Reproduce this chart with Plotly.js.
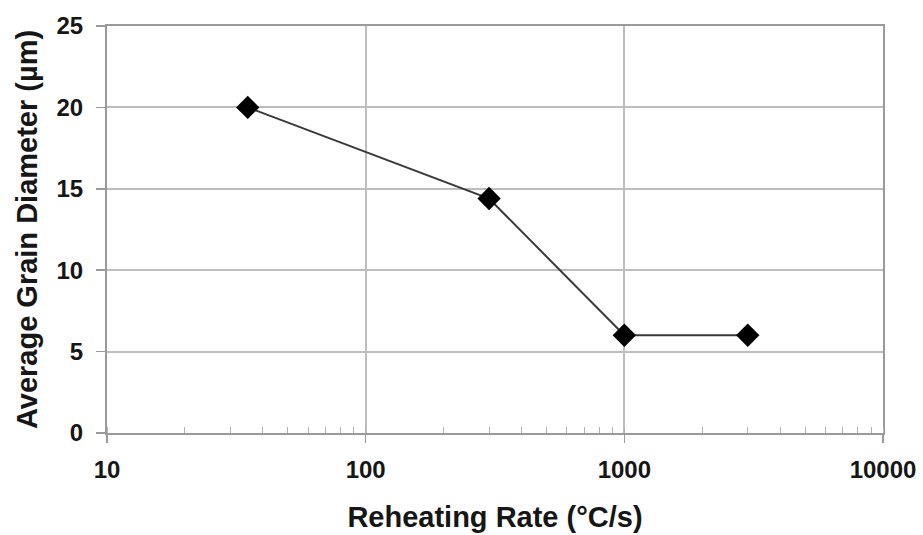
<!DOCTYPE html>
<html>
<head>
<meta charset="utf-8">
<script src="https://cdn.plot.ly/plotly-3.0.1.min.js"></script>
<style>
  html, body { margin: 0; padding: 0; background: #ffffff; }
  #chart { width: 923px; height: 535px; }
</style>
</head>
<body>
<div id="chart"></div>
<script>
// Reheating rate (°C/s) vs. average grain diameter (µm)
const reheatingRate = [35, 300, 1000, 3000];
const grainDiameter = [20, 14.4, 6, 6];
const xTickVals = [10, 100, 1000, 10000];
const xTickText = ['10', '100', '1000', '10000'];
const yTickVals = [0, 5, 10, 15, 20, 25];

const FONT = 'Liberation Sans, Arial, sans-serif';
const GRID = '#bdbdbd';
const AXIS = '#9a9a9a';
const INK = '#161616';

const trace = {
  x: reheatingRate,
  y: grainDiameter,
  type: 'scatter',
  mode: 'lines+markers',
  line: { color: '#3a3a3a', width: 2 },
  marker: { symbol: 'diamond', size: 18, color: '#000000' },
  hoverinfo: 'x+y',
  showlegend: false
};

const layout = {
  width: 923,
  height: 535,
  margin: { l: 107, r: 40, t: 26, b: 102 },
  paper_bgcolor: '#ffffff',
  plot_bgcolor: '#ffffff',
  font: { family: FONT, color: INK },
  xaxis: {
    type: 'log',
    range: [1, 4],
    tickvals: xTickVals,
    ticktext: xTickText,
    ticks: 'outside',
    ticklen: 8,
    tickwidth: 1.5,
    tickcolor: AXIS,
    ticklabelstandoff: 6,
    tickfont: { family: FONT, size: 24, color: INK, weight: 'bold' },
    showgrid: true,
    gridcolor: GRID,
    gridwidth: 2,
    showline: true,
    linecolor: AXIS,
    linewidth: 2,
    mirror: true,
    zeroline: false,
    minor: {
      ticks: 'inside',
      ticklen: 6,
      tickwidth: 1,
      tickcolor: '#b0b0b0',
      dtick: 'D1',
      showgrid: false
    },
    title: {
      text: 'Reheating Rate (°C/s)',
      font: { family: FONT, size: 29, color: INK, weight: 'bold' },
      standoff: 25
    }
  },
  yaxis: {
    range: [0, 25],
    tickvals: yTickVals,
    ticks: 'outside',
    ticklen: 9,
    tickwidth: 1.5,
    tickcolor: AXIS,
    ticklabelstandoff: 8,
    tickfont: { family: FONT, size: 24, color: INK, weight: 'bold' },
    showgrid: true,
    gridcolor: GRID,
    gridwidth: 2,
    showline: true,
    linecolor: AXIS,
    linewidth: 2,
    mirror: true,
    zeroline: false,
    title: {
      text: 'Average Grain Diameter (µm)',
      font: { family: FONT, size: 29, color: INK, weight: 'bold' },
      standoff: 10
    }
  }
};

Plotly.newPlot('chart', [trace], layout, { displayModeBar: false, staticPlot: true });
</script>
</body>
</html>
